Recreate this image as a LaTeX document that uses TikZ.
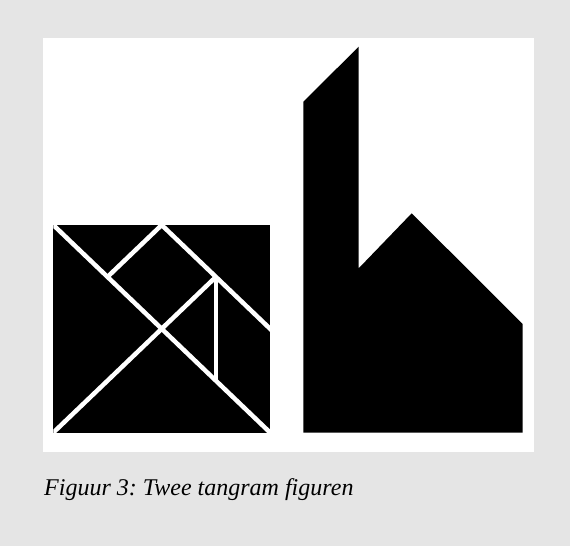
\documentclass[tikz,border=0pt]{standalone}
\usepackage{fontspec}
\setmainfont{Liberation Serif}
\definecolor{bggray}{HTML}{E5E5E5}
\tikzset{
  gap/.style={draw=white, line width=4.5pt, line cap=butt}
}
\begin{document}
\frenchspacing
\begin{tikzpicture}[x=1pt,y=-1pt]
\useasboundingbox (0,0) rectangle (570,546);
\fill[bggray] (0,0) rectangle (570,546);
\fill[white] (43,38) rectangle (534,451.5);
% tangram square
\begin{scope}[shift={(53.3,225)}, x=54.2pt, y=-51.9pt]
  \fill[black] (0,0) rectangle (4,4);
  \begin{scope}
    \clip (0,0) rectangle (4,4);
    \draw[gap] (-0.2,-0.2) -- (4.2,4.2);
    \draw[gap] (-0.2,4.2) -- (3,1);
    \draw[gap] (2,0) -- (4.2,2.2);
    \draw[gap] (2,0) -- (1,1);
    \draw[gap] (3,1) -- (3,3);
  \end{scope}
\end{scope}
% house figure
\fill[black] (303.3,101.7) -- (358.7,46.7) -- (358.7,268.3) -- (411.7,213.3)
  -- (522.7,324) -- (522.7,432.7) -- (303.3,432.7) -- cycle;
% caption
\node[anchor=base west, inner sep=0pt, font=\fontsize{24}{29}\selectfont\itshape] (cap) at (44,495) {Figuur 3: Twee tangram figuren};
\end{tikzpicture}
\end{document}
